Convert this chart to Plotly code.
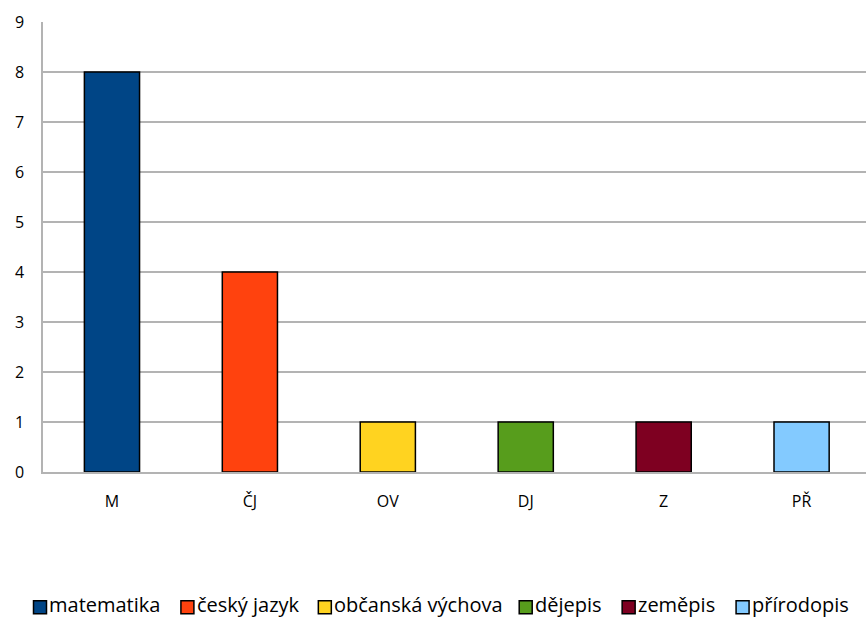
import plotly.graph_objects as go

categories = ["M", "ČJ", "OV", "DJ", "Z", "PŘ"]
series_names = ["matematika", "český jazyk", "občanská výchova", "dějepis", "zeměpis", "přírodopis"]
values = [8, 4, 1, 1, 1, 1]
colors = ["#004586", "#ff420e", "#ffd320", "#579d1c", "#7e0021", "#83caff"]

# legend layout (pixel positions of each legend symbol's left edge)
legend_symbol_left_px = [33, 180.5, 318, 519, 622, 736]

FONT = "'Open Sans', Lato, sans-serif"
W, H = 866, 620
ML, MR, MT, MB = 42.5, 0, 22, 147.5
PW, PH = W - ML - MR, H - MT - MB


def px_x(px):
    return (px - ML) / PW


def px_y(py):
    return (H - MB - py) / PH


fig = go.Figure()
for cat, name, val, col in zip(categories, series_names, values, colors):
    fig.add_trace(go.Bar(
        x=[cat], y=[val], name=name, width=0.4, showlegend=False,
        marker=dict(color=col, line=dict(color="#000000", width=1.5)),
    ))

# manual legend
sym = 13
sym_cy = 608
for name, col, lx in zip(series_names, colors, legend_symbol_left_px):
    fig.add_shape(type="rect", xref="paper", yref="paper",
                  x0=px_x(lx), x1=px_x(lx + sym),
                  y0=px_y(sym_cy + sym / 2), y1=px_y(sym_cy - sym / 2),
                  fillcolor=col, line=dict(color="#000000", width=1.5))
    fig.add_annotation(xref="paper", yref="paper", x=px_x(lx + sym + 2), y=px_y(619.5),
                       xanchor="left", yanchor="bottom", showarrow=False, borderpad=0,
                       text=name, font=dict(size=20, family=FONT, color="#000000"))

fig.update_layout(
    width=W, height=H,
    margin=dict(l=ML, r=MR, t=MT, b=MB, autoexpand=False),
    paper_bgcolor="white", plot_bgcolor="white",
    barmode="overlay",
    font=dict(family=FONT, size=16, color="#000000"),
    showlegend=False,
)
fig.update_xaxes(
    type="category", categoryorder="array", categoryarray=categories,
    range=[-0.5, 5.467],
    showline=True, linecolor="#b3b3b3", linewidth=1.5,
    showgrid=False, ticks="", ticklabelstandoff=14,
    tickfont=dict(size=16),
)
fig.update_yaxes(
    range=[0, 9], dtick=1, tick0=0,
    showline=True, linecolor="#b3b3b3", linewidth=1.5,
    showgrid=True, gridcolor="#b3b3b3", gridwidth=1.5,
    zeroline=False, ticks="", ticklabelstandoff=14,
    tickfont=dict(size=16),
)

fig.write_html("out.html")
